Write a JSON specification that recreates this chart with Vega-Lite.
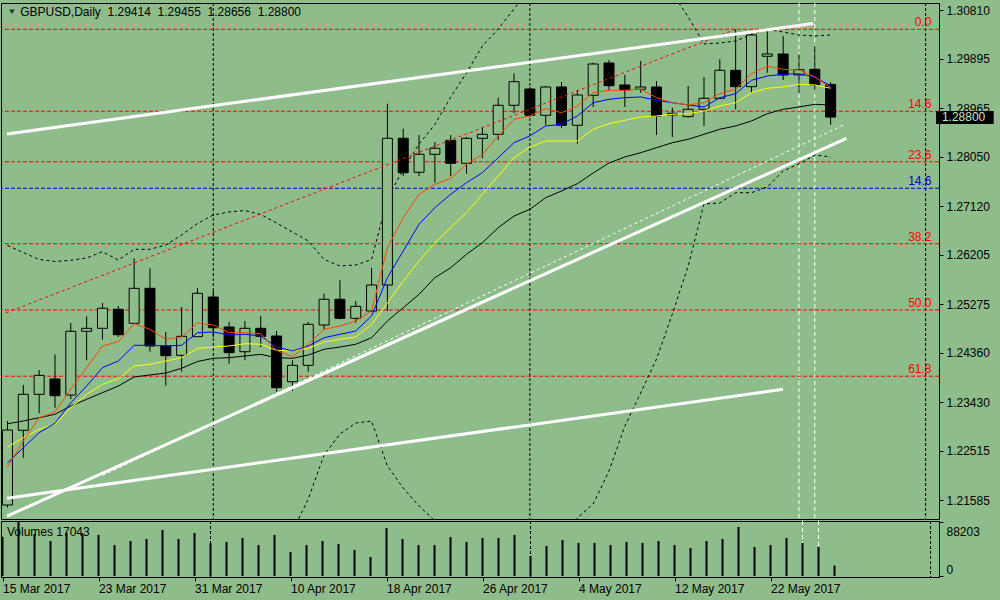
{
"$schema": "https://vega.github.io/schema/vega-lite/v6.json",
"background": "#8FBC8B",
"padding": {"left": 0, "top": 2, "right": 6, "bottom": 6},
"spacing": 0,
"config": {"view": {"stroke": "#000000", "strokeWidth": 1}, "font": "Liberation Sans", "text": {"font": "Liberation Sans"}},
"datasets": {
"bars": [
{"i":0,"d":"2017-03-15","o":1.21496,"h":1.23078,"l":1.21450,"c":1.22908,"v":64000,"m1":1.22212,"m2":1.22287,"m3":1.22588,"m4":1.23027,"bu":1.26382,"bl":1.19500},
{"i":1,"d":"2017-03-16","o":1.22903,"h":1.23756,"l":1.22387,"c":1.23580,"v":88203,"m1":1.22701,"m2":1.22575,"m3":1.22763,"m4":1.23078,"bu":1.26250,"bl":1.19550},
{"i":2,"d":"2017-03-17","o":1.23580,"h":1.24038,"l":1.23223,"c":1.23938,"v":68600,"m1":1.23140,"m2":1.22858,"m3":1.22922,"m4":1.23140,"bu":1.26118,"bl":1.19580},
{"i":3,"d":"2017-03-20","o":1.23869,"h":1.24333,"l":1.23328,"c":1.23554,"v":57170,"m1":1.23247,"m2":1.23035,"m3":1.23016,"m4":1.23204,"bu":1.26081,"bl":1.19600},
{"i":4,"d":"2017-03-21","o":1.23567,"h":1.24923,"l":1.23492,"c":1.24767,"v":70240,"m1":1.23680,"m2":1.23422,"m3":1.23328,"m4":1.23360,"bu":1.26103,"bl":1.19620},
{"i":5,"d":"2017-03-22","o":1.24767,"h":1.25049,"l":1.24221,"c":1.24823,"v":68600,"m1":1.24081,"m2":1.23737,"m3":1.23580,"m4":1.23486,"bu":1.26147,"bl":1.19620},
{"i":6,"d":"2017-03-23","o":1.24823,"h":1.25299,"l":1.24608,"c":1.25200,"v":66970,"m1":1.24490,"m2":1.24081,"m3":1.23769,"m4":1.23611,"bu":1.26265,"bl":1.19620},
{"i":7,"d":"2017-03-24","o":1.25181,"h":1.25243,"l":1.24659,"c":1.24702,"v":50640,"m1":1.24571,"m2":1.24207,"m3":1.23874,"m4":1.23737,"bu":1.26109,"bl":1.19650},
{"i":8,"d":"2017-03-27","o":1.24917,"h":1.26141,"l":1.24904,"c":1.25576,"v":57170,"m1":1.24910,"m2":1.24503,"m3":1.24113,"m4":1.23906,"bu":1.26310,"bl":1.19660},
{"i":9,"d":"2017-03-28","o":1.25576,"h":1.25953,"l":1.24382,"c":1.24490,"v":60440,"m1":1.24804,"m2":1.24503,"m3":1.24145,"m4":1.23944,"bu":1.26310,"bl":1.19660},
{"i":10,"d":"2017-03-29","o":1.24490,"h":1.24753,"l":1.23742,"c":1.24307,"v":75140,"m1":1.24616,"m2":1.24490,"m3":1.24207,"m4":1.23981,"bu":1.26391,"bl":1.19680},
{"i":11,"d":"2017-03-30","o":1.24315,"h":1.25224,"l":1.24006,"c":1.24672,"v":60440,"m1":1.24659,"m2":1.24503,"m3":1.24270,"m4":1.24070,"bu":1.26580,"bl":1.19700},
{"i":12,"d":"2017-03-31","o":1.24665,"h":1.25582,"l":1.24659,"c":1.25482,"v":70240,"m1":1.24923,"m2":1.24740,"m3":1.24446,"m4":1.24198,"bu":1.26796,"bl":1.19750},
{"i":13,"d":"2017-04-03","o":1.25412,"h":1.25538,"l":1.24659,"c":1.24834,"v":53900,"m1":1.24885,"m2":1.24753,"m3":1.24471,"m4":1.24258,"bu":1.26956,"bl":1.19800},
{"i":14,"d":"2017-04-04","o":1.24848,"h":1.24942,"l":1.24157,"c":1.24364,"v":55540,"m1":1.24740,"m2":1.24697,"m3":1.24490,"m4":1.24270,"bu":1.27013,"bl":1.19840},
{"i":15,"d":"2017-04-05","o":1.24382,"h":1.24960,"l":1.24221,"c":1.24823,"v":62070,"m1":1.24740,"m2":1.24710,"m3":1.24533,"m4":1.24302,"bu":1.27041,"bl":1.19877},
{"i":16,"d":"2017-04-06","o":1.24823,"h":1.25055,"l":1.24471,"c":1.24672,"v":50640,"m1":1.24721,"m2":1.24678,"m3":1.24522,"m4":1.24333,"bu":1.26966,"bl":1.20160},
{"i":17,"d":"2017-04-07","o":1.24678,"h":1.24772,"l":1.23629,"c":1.23705,"v":66970,"m1":1.24409,"m2":1.24471,"m3":1.24409,"m4":1.24270,"bu":1.26806,"bl":1.20442},
{"i":18,"d":"2017-04-10","o":1.23818,"h":1.24221,"l":1.23643,"c":1.24126,"v":39200,"m1":1.24288,"m2":1.24396,"m3":1.24396,"m4":1.24258,"bu":1.26636,"bl":1.21007},
{"i":19,"d":"2017-04-11","o":1.24126,"h":1.24942,"l":1.24006,"c":1.24898,"v":50640,"m1":1.24522,"m2":1.24490,"m3":1.24446,"m4":1.24320,"bu":1.26467,"bl":1.21609},
{"i":20,"d":"2017-04-12","o":1.24885,"h":1.25474,"l":1.24804,"c":1.25369,"v":57170,"m1":1.24804,"m2":1.24646,"m3":1.24565,"m4":1.24428,"bu":1.26118,"bl":1.22438},
{"i":21,"d":"2017-04-13","o":1.25369,"h":1.25727,"l":1.24992,"c":1.25011,"v":52270,"m1":1.24866,"m2":1.24710,"m3":1.24616,"m4":1.24471,"bu":1.25996,"bl":1.22833},
{"i":22,"d":"2017-04-14","o":1.25011,"h":1.25337,"l":1.24928,"c":1.25237,"v":42470,"m1":1.24960,"m2":1.24772,"m3":1.24659,"m4":1.24522,"bu":1.26015,"bl":1.23040},
{"i":23,"d":"2017-04-17","o":1.25149,"h":1.25964,"l":1.25130,"c":1.25638,"v":31030,"m1":1.25149,"m2":1.25055,"m3":1.24898,"m4":1.24646,"bu":1.26118,"bl":1.23078},
{"i":24,"d":"2017-04-18","o":1.25638,"h":1.29052,"l":1.25149,"c":1.28400,"v":78400,"m1":1.26341,"m2":1.25776,"m3":1.25299,"m4":1.24960,"bu":1.27257,"bl":1.22231},
{"i":25,"d":"2017-04-19","o":1.28400,"h":1.28581,"l":1.27690,"c":1.27752,"v":60440,"m1":1.26905,"m2":1.26278,"m3":1.25714,"m4":1.25211,"bu":1.27822,"bl":1.21816},
{"i":26,"d":"2017-04-20","o":1.27760,"h":1.28462,"l":1.27690,"c":1.28099,"v":50640,"m1":1.27346,"m2":1.26781,"m3":1.26090,"m4":1.25463,"bu":1.28293,"bl":1.21478},
{"i":27,"d":"2017-04-21","o":1.28099,"h":1.28330,"l":1.27564,"c":1.28212,"v":50640,"m1":1.27534,"m2":1.27094,"m3":1.26435,"m4":1.25776,"bu":1.28660,"bl":1.21195},
{"i":28,"d":"2017-04-24","o":1.28362,"h":1.28462,"l":1.27690,"c":1.27929,"v":63700,"m1":1.27647,"m2":1.27346,"m3":1.26717,"m4":1.25964,"bu":1.29178,"bl":1.20819},
{"i":29,"d":"2017-04-25","o":1.27929,"h":1.28425,"l":1.27734,"c":1.28400,"v":55540,"m1":1.27911,"m2":1.27564,"m3":1.26999,"m4":1.26216,"bu":1.29630,"bl":1.20442},
{"i":30,"d":"2017-04-26","o":1.28400,"h":1.28613,"l":1.28024,"c":1.28475,"v":62070,"m1":1.28099,"m2":1.27753,"m3":1.27346,"m4":1.26435,"bu":1.30138,"bl":1.20160},
{"i":31,"d":"2017-04-27","o":1.28475,"h":1.29164,"l":1.28368,"c":1.29021,"v":62070,"m1":1.28444,"m2":1.28035,"m3":1.27690,"m4":1.26717,"bu":1.30458,"bl":1.19971},
{"i":32,"d":"2017-04-28","o":1.29021,"h":1.29624,"l":1.28871,"c":1.29466,"v":66970,"m1":1.28758,"m2":1.28317,"m3":1.28035,"m4":1.26937,"bu":1.30835,"bl":1.19877},
{"i":33,"d":"2017-05-01","o":1.29328,"h":1.29366,"l":1.28801,"c":1.28833,"v":32670,"m1":1.28820,"m2":1.28444,"m3":1.28236,"m4":1.27063,"bu":1.31211,"bl":1.19971},
{"i":34,"d":"2017-05-02","o":1.28833,"h":1.29385,"l":1.28645,"c":1.29366,"v":49000,"m1":1.28957,"m2":1.28632,"m3":1.28349,"m4":1.27282,"bu":1.31550,"bl":1.20254},
{"i":35,"d":"2017-05-03","o":1.29366,"h":1.29460,"l":1.28594,"c":1.28645,"v":58800,"m1":1.28882,"m2":1.28664,"m3":1.28349,"m4":1.27408,"bu":1.31832,"bl":1.20724},
{"i":36,"d":"2017-05-04","o":1.28645,"h":1.29310,"l":1.28299,"c":1.29215,"v":53900,"m1":1.29008,"m2":1.28820,"m3":1.28349,"m4":1.27545,"bu":1.32021,"bl":1.21252},
{"i":37,"d":"2017-05-05","o":1.29210,"h":1.29824,"l":1.28989,"c":1.29799,"v":53900,"m1":1.29259,"m2":1.29070,"m3":1.28570,"m4":1.27747,"bu":1.32115,"bl":1.21515},
{"i":38,"d":"2017-05-08","o":1.29818,"h":1.29874,"l":1.29291,"c":1.29390,"v":50640,"m1":1.29304,"m2":1.29134,"m3":1.28675,"m4":1.27935,"bu":1.32115,"bl":1.22136},
{"i":39,"d":"2017-05-09","o":1.29404,"h":1.29592,"l":1.28989,"c":1.29310,"v":55540,"m1":1.29304,"m2":1.29165,"m3":1.28739,"m4":1.28048,"bu":1.32021,"bl":1.22984},
{"i":40,"d":"2017-05-10","o":1.29323,"h":1.29856,"l":1.29259,"c":1.29366,"v":53900,"m1":1.29323,"m2":1.29178,"m3":1.28801,"m4":1.28129,"bu":1.31832,"bl":1.23605},
{"i":41,"d":"2017-05-11","o":1.29366,"h":1.29479,"l":1.28462,"c":1.28820,"v":57170,"m1":1.29165,"m2":1.29116,"m3":1.28820,"m4":1.28223,"bu":1.31550,"bl":1.24245},
{"i":42,"d":"2017-05-12","o":1.28839,"h":1.28976,"l":1.28425,"c":1.28871,"v":50640,"m1":1.29070,"m2":1.29070,"m3":1.28852,"m4":1.28317,"bu":1.31136,"bl":1.25092},
{"i":43,"d":"2017-05-15","o":1.28807,"h":1.29385,"l":1.28788,"c":1.28946,"v":45740,"m1":1.29027,"m2":1.29027,"m3":1.28863,"m4":1.28381,"bu":1.30684,"bl":1.25996},
{"i":44,"d":"2017-05-16","o":1.28946,"h":1.29554,"l":1.28632,"c":1.29153,"v":57170,"m1":1.29070,"m2":1.28989,"m3":1.28914,"m4":1.28475,"bu":1.30176,"bl":1.27163},
{"i":45,"d":"2017-05-17","o":1.29153,"h":1.29887,"l":1.29140,"c":1.29680,"v":60440,"m1":1.29240,"m2":1.29165,"m3":1.29008,"m4":1.28570,"bu":1.30194,"bl":1.27182},
{"i":46,"d":"2017-05-18","o":1.29680,"h":1.30452,"l":1.28946,"c":1.29372,"v":80040,"m1":1.29323,"m2":1.29240,"m3":1.29070,"m4":1.28632,"bu":1.30232,"bl":1.27376},
{"i":47,"d":"2017-05-19","o":1.29372,"h":1.30377,"l":1.29259,"c":1.30345,"v":47370,"m1":1.29616,"m2":1.29492,"m3":1.29259,"m4":1.28726,"bu":1.30354,"bl":1.27376},
{"i":48,"d":"2017-05-22","o":1.29944,"h":1.30452,"l":1.29635,"c":1.29987,"v":50640,"m1":1.29756,"m2":1.29573,"m3":1.29342,"m4":1.28863,"bu":1.30449,"bl":1.27483},
{"i":49,"d":"2017-05-23","o":1.29987,"h":1.30326,"l":1.29498,"c":1.29592,"v":62070,"m1":1.29699,"m2":1.29605,"m3":1.29366,"m4":1.28946,"bu":1.30401,"bl":1.27785},
{"i":50,"d":"2017-05-24","o":1.29592,"h":1.29982,"l":1.29259,"c":1.29692,"v":53900,"m1":1.29686,"m2":1.29616,"m3":1.29417,"m4":1.28989,"bu":1.30345,"bl":1.27916},
{"i":51,"d":"2017-05-25","o":1.29699,"h":1.30138,"l":1.29304,"c":1.29404,"v":47370,"m1":1.29554,"m2":1.29554,"m3":1.29404,"m4":1.29040,"bu":1.30326,"bl":1.28086},
{"i":52,"d":"2017-05-26","o":1.29414,"h":1.29455,"l":1.28656,"c":1.28800,"v":17043,"m1":1.29353,"m2":1.29385,"m3":1.29342,"m4":1.29027,"bu":1.30345,"bl":1.28048}
],
"fib": [
{"level":"0.0","p":1.30452,"set":"main"},
{"level":"14.6","p":1.28909,"set":"main"},
{"level":"23.6","p":1.27958,"set":"main"},
{"level":"38.2","p":1.26415,"set":"main"},
{"level":"50.0","p":1.25168,"set":"main"},
{"level":"61.8","p":1.23921,"set":"main"},
{"level":"14.6","p":1.27459,"set":"second"}
],
"thick": [
{"line":"upper","i":-0.03,"p":1.28481},{"line":"upper","i":50.9,"p":1.30562},
{"line":"rising","i":-0.03,"p":1.21286},{"line":"rising","i":53.0,"p":1.28400},
{"line":"lower","i":-0.03,"p":1.21624},{"line":"lower","i":48.99,"p":1.23675}
],
"thin": [{"line":"parallel","i":6.03,"p":1.22054},{"line":"parallel","i":52.9,"p":1.28662}],
"diag": [{"line":"fibtrend","i":-0.1,"p":1.25113},{"line":"fibtrend","i":46,"p":1.30452}],
"seps": [{"i":13},{"i":33},{"i":58}],
"wseps": [{"i":50},{"i":51}]
},
"vconcat": [
{
"width": 938, "height": 516,
"resolve": {"axis": {"x": "independent", "y": "independent"}},
"layer": [
{"data":{"name":"seps"},"mark":{"type":"rule","color":"#000000","strokeWidth":1,"strokeDash":[3,2]},
 "encoding":{"x":{"field":"i","type":"quantitative","scale":{"domain":[-0.094,58.53],"nice":false,"zero":false},"axis":null}}},
{"data":{"name":"wseps"},"mark":{"type":"rule","color":"#FFFFFF","strokeWidth":1,"strokeDash":[4,3]},
 "encoding":{"x":{"field":"i","type":"quantitative","scale":{"domain":[-0.094,58.53],"nice":false,"zero":false},"axis":null}}},
{"data":{"name":"fib"},"mark":{"type":"rule","strokeWidth":1,"strokeDash":[4,2]},
 "encoding":{"y":{"field":"p","type":"quantitative","scale":{"domain":[1.21233,1.30947],"nice":false,"zero":false},"axis":null},
  "color":{"field":"set","type":"nominal","scale":{"domain":["main","second"],"range":["#FF0000","#0000CD"]},"legend":null}}},
{"data":{"name":"bars"},"mark":{"type":"line","color":"#000000","strokeWidth":1,"strokeDash":[3,3],"clip":true},
 "encoding":{"x":{"field":"i","type":"quantitative","scale":{"domain":[-0.094,58.53],"nice":false,"zero":false},"axis":null},
  "y":{"field":"bu","type":"quantitative","scale":{"domain":[1.21233,1.30947],"nice":false,"zero":false},"axis":null}}},
{"data":{"name":"bars"},"mark":{"type":"line","color":"#000000","strokeWidth":1,"strokeDash":[3,3],"clip":true},
 "encoding":{"x":{"field":"i","type":"quantitative","scale":{"domain":[-0.094,58.53],"nice":false,"zero":false},"axis":null},
  "y":{"field":"bl","type":"quantitative","scale":{"domain":[1.21233,1.30947],"nice":false,"zero":false},"axis":null}}},
{"data":{"name":"bars"},"mark":{"type":"rule","color":"#000000","strokeWidth":1,"clip":true},
 "encoding":{"x":{"field":"i","type":"quantitative","scale":{"domain":[-0.094,58.53],"nice":false,"zero":false},"axis":null},
  "y":{"field":"l","type":"quantitative","scale":{"domain":[1.21233,1.30947],"nice":false,"zero":false},
   "axis":{"orient":"right","title":null,"values":[1.3081,1.29895,1.28965,1.2805,1.2712,1.26205,1.25275,1.2436,1.2343,1.22515,1.21585],"format":".5f","domain":false,"grid":false,"ticks":true,"tickSize":4,"tickColor":"#000000","labelPadding":3,"labelFont":"Liberation Sans","labelFontSize":12,"labelColor":"#000000"}},
  "y2":{"field":"h"}}},
{"data":{"name":"bars"},"mark":{"type":"bar","size":10,"stroke":"#000000","strokeWidth":1,"clip":true},
 "encoding":{"x":{"field":"i","type":"quantitative","scale":{"domain":[-0.094,58.53],"nice":false,"zero":false},"axis":null},
  "y":{"field":"o","type":"quantitative","scale":{"domain":[1.21233,1.30947],"nice":false,"zero":false},"axis":null},
  "y2":{"field":"c"},
  "fill":{"condition":{"test":"datum.c < datum.o","value":"#000000"},"value":"#8FBC8B"}}},
{"data":{"name":"bars"},"mark":{"type":"line","color":"#000000","strokeWidth":1,"clip":true},
 "encoding":{"x":{"field":"i","type":"quantitative","scale":{"domain":[-0.094,58.53],"nice":false,"zero":false},"axis":null},
  "y":{"field":"m4","type":"quantitative","scale":{"domain":[1.21233,1.30947],"nice":false,"zero":false},"axis":null}}},
{"data":{"name":"bars"},"mark":{"type":"line","color":"#FFFF00","strokeWidth":1,"clip":true},
 "encoding":{"x":{"field":"i","type":"quantitative","scale":{"domain":[-0.094,58.53],"nice":false,"zero":false},"axis":null},
  "y":{"field":"m3","type":"quantitative","scale":{"domain":[1.21233,1.30947],"nice":false,"zero":false},"axis":null}}},
{"data":{"name":"bars"},"mark":{"type":"line","color":"#0000FF","strokeWidth":1,"clip":true},
 "encoding":{"x":{"field":"i","type":"quantitative","scale":{"domain":[-0.094,58.53],"nice":false,"zero":false},"axis":null},
  "y":{"field":"m2","type":"quantitative","scale":{"domain":[1.21233,1.30947],"nice":false,"zero":false},"axis":null}}},
{"data":{"name":"bars"},"mark":{"type":"line","color":"#FF4500","strokeWidth":1,"clip":true},
 "encoding":{"x":{"field":"i","type":"quantitative","scale":{"domain":[-0.094,58.53],"nice":false,"zero":false},"axis":null},
  "y":{"field":"m1","type":"quantitative","scale":{"domain":[1.21233,1.30947],"nice":false,"zero":false},"axis":null}}},
{"data":{"name":"diag"},"mark":{"type":"line","color":"#FF0000","strokeWidth":1,"strokeDash":[3,3],"clip":true},
 "encoding":{"x":{"field":"i","type":"quantitative","scale":{"domain":[-0.094,58.53],"nice":false,"zero":false},"axis":null},
  "y":{"field":"p","type":"quantitative","scale":{"domain":[1.21233,1.30947],"nice":false,"zero":false},"axis":null},"detail":{"field":"line"}}},
{"data":{"name":"thin"},"mark":{"type":"line","color":"#FFFFFF","strokeWidth":1,"strokeDash":[3,3],"clip":true},
 "encoding":{"x":{"field":"i","type":"quantitative","scale":{"domain":[-0.094,58.53],"nice":false,"zero":false},"axis":null},
  "y":{"field":"p","type":"quantitative","scale":{"domain":[1.21233,1.30947],"nice":false,"zero":false},"axis":null},"detail":{"field":"line"}}},
{"data":{"name":"thick"},"mark":{"type":"line","color":"#FFFFFF","strokeWidth":3,"clip":true},
 "encoding":{"x":{"field":"i","type":"quantitative","scale":{"domain":[-0.094,58.53],"nice":false,"zero":false},"axis":null},
  "y":{"field":"p","type":"quantitative","scale":{"domain":[1.21233,1.30947],"nice":false,"zero":false},"axis":null},"detail":{"field":"line"}}},
{"data":{"name":"fib"},"mark":{"type":"text","align":"right","baseline":"bottom","fontSize":12,"font":"Liberation Sans"},
 "encoding":{"x":{"datum":58.375,"type":"quantitative","scale":{"domain":[-0.094,58.53],"nice":false,"zero":false},"axis":null},
  "y":{"field":"p","type":"quantitative","scale":{"domain":[1.21233,1.30947],"nice":false,"zero":false},"axis":null},
  "text":{"field":"level"},
  "color":{"field":"set","type":"nominal","scale":{"domain":["main","second"],"range":["#FF0000","#0000CD"]},"legend":null}}},
{"data":{"values":[{"s":"GBPUSD,Daily\u00a0\u00a01.29414\u00a0\u00a01.29455\u00a0\u00a01.28656\u00a0\u00a01.28800"}]},"mark":{"type":"point","shape":"triangle-down","size":30,"filled":true,"color":"#000000"},
 "encoding":{"x":{"datum":0.28,"type":"quantitative","scale":{"domain":[-0.094,58.53],"nice":false,"zero":false},"axis":null},
  "y":{"datum":1.30778,"type":"quantitative","scale":{"domain":[1.21233,1.30947],"nice":false,"zero":false},"axis":null}}},
{"data":{"values":[{"s":"GBPUSD,Daily\u00a0\u00a01.29414\u00a0\u00a01.29455\u00a0\u00a01.28656\u00a0\u00a01.28800"}]},"mark":{"type":"text","align":"left","baseline":"middle","fontSize":12,"font":"Liberation Sans","color":"#000000"},
 "encoding":{"x":{"datum":0.8,"type":"quantitative","scale":{"domain":[-0.094,58.53],"nice":false,"zero":false},"axis":null},
  "y":{"datum":1.30778,"type":"quantitative","scale":{"domain":[1.21233,1.30947],"nice":false,"zero":false},"axis":null},
  "text":{"field":"s"}}},
{"data":{"values":[{"p":1.288}]},"mark":{"type":"rect","color":"#000000","clip":false},
 "encoding":{"x":{"datum":58.66,"type":"quantitative","scale":{"domain":[-0.094,58.53],"nice":false,"zero":false},"axis":null},
  "x2":{"datum":62.3},
  "y":{"datum":1.28914,"type":"quantitative","scale":{"domain":[1.21233,1.30947],"nice":false,"zero":false},"axis":null},
  "y2":{"datum":1.28669}}},
{"data":{"values":[{"p":1.288}]},"mark":{"type":"text","align":"left","baseline":"middle","fontSize":12,"font":"Liberation Sans","color":"#C8E6C8","clip":false},
 "encoding":{"x":{"datum":59.03,"type":"quantitative","scale":{"domain":[-0.094,58.53],"nice":false,"zero":false},"axis":null},
  "y":{"field":"p","type":"quantitative","scale":{"domain":[1.21233,1.30947],"nice":false,"zero":false},"axis":null},
  "text":{"field":"p","format":".5f"}}}
]
},
{
"width": 938, "height": 56,
"resolve": {"axis": {"x": "independent", "y": "independent"}},
"layer": [
{"data":{"name":"seps"},"mark":{"type":"rule","color":"#000000","strokeWidth":1,"strokeDash":[3,2]},
 "encoding":{"x":{"field":"i","type":"quantitative","scale":{"domain":[-0.094,58.53],"nice":false,"zero":false},"axis":null}}},
{"data":{"name":"wseps"},"mark":{"type":"rule","color":"#FFFFFF","strokeWidth":1,"strokeDash":[4,3]},
 "encoding":{"x":{"field":"i","type":"quantitative","scale":{"domain":[-0.094,58.53],"nice":false,"zero":false},"axis":null}}},
{"data":{"name":"bars"},"mark":{"type":"rule","color":"#000000","strokeWidth":2,"clip":true},
 "encoding":{"x":{"field":"i","type":"quantitative","scale":{"domain":[-0.094,58.53],"nice":false,"zero":false},
   "axis":{"orient":"bottom","title":null,"values":[0,6,12,18,24,30,36,42,48],"labelExpr":"['15 Mar 2017','23 Mar 2017','31 Mar 2017','10 Apr 2017','18 Apr 2017','26 Apr 2017','4 May 2017','12 May 2017','22 May 2017'][round(datum.value/6)]","labelAlign":"left","labelPadding":2,"ticks":true,"tickSize":4,"tickColor":"#000000","domain":false,"grid":false,"labelFlush":false,"labelOverlap":false,"labelFont":"Liberation Sans","labelFontSize":12,"labelColor":"#000000"}},
  "y":{"field":"v","type":"quantitative","scale":{"domain":[-1633,89836],"nice":false,"zero":false},
   "axis":{"orient":"right","title":null,"values":[88203,0],"format":"d","domain":false,"grid":false,"ticks":true,"tickSize":4,"tickColor":"#000000","labelPadding":3,"labelFont":"Liberation Sans","labelFontSize":12,"labelColor":"#000000","labelOffset":{"condition":{"test":"datum.value > 1000","value":10},"value":-7}}},
  "y2":{"datum":0}}},
{"data":{"values":[{"s":"Volumes 17043"}]},"mark":{"type":"text","align":"left","baseline":"middle","fontSize":12,"font":"Liberation Sans","color":"#000000"},
 "encoding":{"x":{"datum":0.28,"type":"quantitative","scale":{"domain":[-0.094,58.53],"nice":false,"zero":false},"axis":null},
  "y":{"datum":71870,"type":"quantitative","scale":{"domain":[-1633,89836],"nice":false,"zero":false},"axis":null},
  "text":{"field":"s"}}}
]
}
]
}
